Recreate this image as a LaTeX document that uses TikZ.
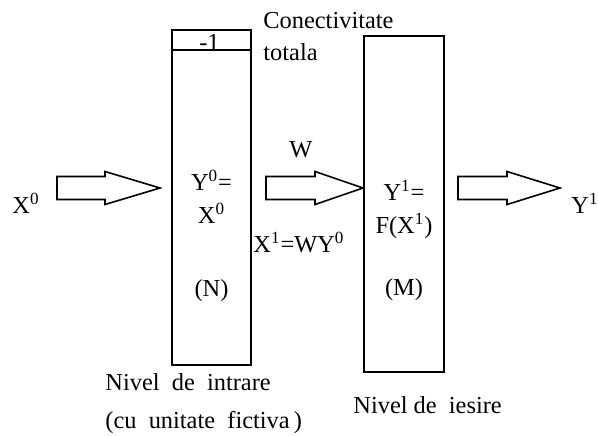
\documentclass[tikz,border=0pt]{standalone}
\usepackage{fontspec}
\setmainfont{Liberation Serif}
\usetikzlibrary{positioning,calc}

% block arrow: #1 = tail (centre of the shaft end), #2 = shaft length, #3 = total length
\newcommand{\fatarrow}[3]{%
  \draw[fatline] ($(#1)+(0,5.75)$) -- ++(#2,0) -- ++(0,2.5)
    -- ($(#1)+(#3,0)$) -- ($(#1)+(#2,-8.25)$) -- ++(0,2.5)
    -- ($(#1)+(0,-5.75)$) -- cycle;}

\begin{document}
\begin{tikzpicture}[x=1pt, y=1pt,
    every node/.style={font=\fontsize{12.2}{14.5}\selectfont, inner sep=0pt},
    layerbox/.style={rectangle, draw, line width=0.8pt},
    fatline/.style={line width=0.8pt, line join=miter},
    lbl/.style={anchor=base},
]
\useasboundingbox (0,0) rectangle (299,217.5);

% ===== Layers =====
\node[layerbox, minimum width=39.5pt, minimum height=167.5pt] (inlayer) at (105.75,118.75) {};
\node[layerbox, minimum width=40pt, minimum height=168pt] (outlayer) at (202,115.5) {};
\draw[line width=0.8pt] ([yshift=-10.5pt]inlayer.north west) coordinate (divl)
    -- ([yshift=-10.5pt]inlayer.north east) coordinate (divr);

% ===== Texts inside the layers =====
\node[lbl] (bias) at (104.75,192.5) {-1};
\node[lbl] (y0eq) at (105.75,122.5) {Y\textsuperscript{0}=};
\node[lbl] (x0in) at (105.75,106) {X\textsuperscript{0}};
\node[lbl] (nn) at (105.75,69.5) {(N)};
\node[lbl] (y1eq) at (202,117.5) {Y\textsuperscript{1}=};
\node[lbl] (fx1) at (202,101) {F(X\textsuperscript{1})};
\node[lbl] (mm) at (202,70) {(M)};

% ===== Labels =====
\node[anchor=base west] (conect) at (131.5,203.5) {Conectivitate};
\node[anchor=base west] (totala) at (131.5,187.5) {totala};
\node[lbl] (wlbl) at (150.5,139) {W};
\node[anchor=base west] (x1eq) at (126.5,91.5) {X\textsuperscript{1}=WY\textsuperscript{0}};
\node[lbl] (xin) at (13,111) {X\textsuperscript{0}};
\node[lbl] (yout) at (292.5,111) {Y\textsuperscript{1}};
\node[anchor=base west, align=left] (inname) at (52.5,22.5)
    {Nivel\ \ de\ \ intrare};
\node[anchor=base west] (inname2) at (52.5,3.5) {(cu\ \ unitate\ \ fictiva\,)};
\node[anchor=base west] (outname) at (176.5,11) {Nivel de\ \ iesire};

% ===== Block arrows =====
\coordinate (a1) at (28.5,123.5);
\coordinate (a2) at (133,123.5);
\coordinate (a3) at (229,123.5);
\fatarrow{a1}{24}{51.5}
\fatarrow{a2}{24.5}{48.5}
\fatarrow{a3}{24.5}{51}

\end{tikzpicture}
\end{document}
